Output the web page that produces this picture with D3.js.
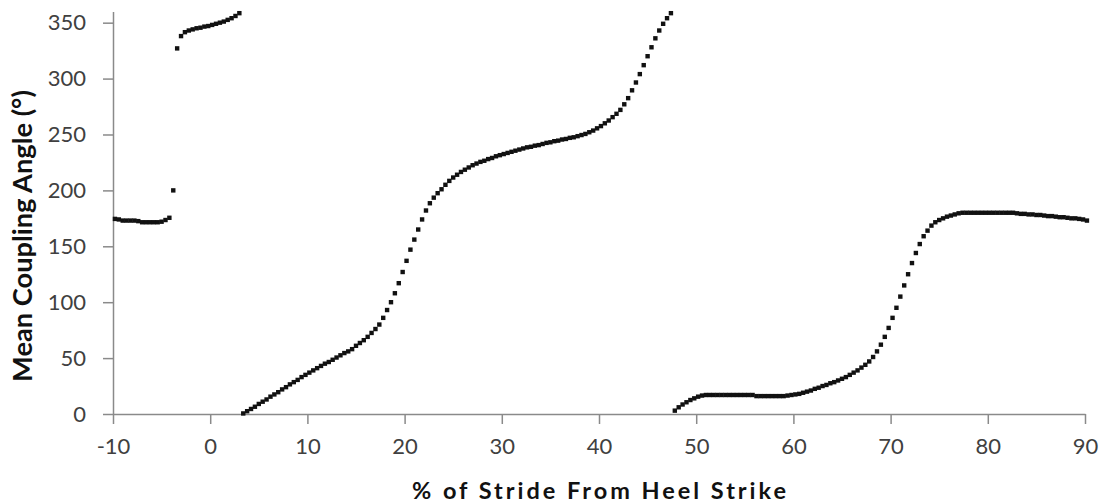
<!DOCTYPE html>
<html>
<head>
<meta charset="utf-8">
<script src="https://cdn.jsdelivr.net/npm/d3@7"></script>
<style>
body { margin: 0; background: #fff; }
</style>
</head>
<body>
<div id="chart"></div>
<script>
// % of stride from heel strike
const stride = [
  -9.8,-9.4,-9.0,-8.6,-8.2,-7.8,-7.4,-7.0,-6.6,-6.2,
  -5.8,-5.4,-5.0,-4.6,-4.2,-3.8,-3.4,-3.0,-2.6,-2.2,
  -1.8,-1.4,-1.0,-0.6,-0.2,0.2,0.6,1.0,1.4,1.8,
  2.2,2.6,3.0,3.4,3.8,4.2,4.6,5.0,5.4,5.8,
  6.2,6.6,7.0,7.4,7.8,8.2,8.6,9.0,9.4,9.8,
  10.2,10.6,11.0,11.4,11.8,12.2,12.6,13.0,13.4,13.8,
  14.2,14.6,15.0,15.4,15.8,16.2,16.6,17.0,17.4,17.8,
  18.2,18.6,19.0,19.4,19.8,20.2,20.6,21.0,21.4,21.8,
  22.2,22.6,23.0,23.4,23.8,24.2,24.6,25.0,25.4,25.8,
  26.2,26.6,27.0,27.4,27.8,28.2,28.6,29.0,29.4,29.8,
  30.2,30.6,31.0,31.4,31.8,32.2,32.6,33.0,33.4,33.8,
  34.2,34.6,35.0,35.4,35.8,36.2,36.6,37.0,37.4,37.8,
  38.2,38.6,39.0,39.4,39.8,40.2,40.6,41.0,41.4,41.8,
  42.2,42.6,43.0,43.4,43.8,44.2,44.6,45.0,45.4,45.8,
  46.2,46.6,47.0,47.4,47.8,48.2,48.6,49.0,49.4,49.8,
  50.2,50.6,51.0,51.4,51.8,52.2,52.6,53.0,53.4,53.8,
  54.2,54.6,55.0,55.4,55.8,56.2,56.6,57.0,57.4,57.8,
  58.2,58.6,59.0,59.4,59.8,60.2,60.6,61.0,61.4,61.8,
  62.2,62.6,63.0,63.4,63.8,64.2,64.6,65.0,65.4,65.8,
  66.2,66.6,67.0,67.4,67.8,68.2,68.6,69.0,69.4,69.8,
  70.2,70.6,71.0,71.4,71.8,72.2,72.6,73.0,73.4,73.8,
  74.2,74.6,75.0,75.4,75.8,76.2,76.6,77.0,77.4,77.8,
  78.2,78.6,79.0,79.4,79.8,80.2,80.6,81.0,81.4,81.8,
  82.2,82.6,83.0,83.4,83.8,84.2,84.6,85.0,85.4,85.8,
  86.2,86.6,87.0,87.4,87.8,88.2,88.6,89.0,89.4,89.8,
  90.2
];

// mean coupling angle (deg)
const angle = [
  174.5,174,173,173,173,173,172.5,171.5,171.5,171.5,
  171.5,171.5,172,173.5,175.5,200,327,338,341.5,343,
  344,345,345.5,346.5,347,348,349,350,351,352.5,
  354,356,358.5,0.5,2.5,4.5,6.5,9,11,13,
  15.5,17.5,19.5,22,24,26.5,28.5,30.5,33,35,
  37,39,41,43,45,46.5,48.5,50.5,52.5,54.5,
  56,58,61,63.5,66,69,72.5,76,80,86,
  93,100,108,117,127,137,147,156,165,174,
  182,188.5,193.5,197.5,201,205,208.5,211.5,214,216.5,
  218.5,220.5,222.5,224,225.5,226.5,228,229,230.5,231.5,
  232.5,233.5,234.5,235.5,236.5,237.5,238.5,239,240,240.5,
  241.5,242.5,243,244,244.5,245.5,246,247,247.5,248.5,
  249.5,250.5,252,253.5,255.5,257.5,260,262.5,265.5,268.5,
  272,277,282.5,289.5,296.5,304,312,320,328,336,
  343,349,354,358.5,3,6,8.5,10.5,12.5,14,
  15.5,16.5,17,17,17,17,17,17,17,17,
  17,17,17,17,17,16,16,16,16,16,
  16,16,16,16.5,17,17.5,18,19,20,21,
  22.5,23.5,25,26,27.5,28.5,30,31.5,33,35,
  37,39,41.5,44,47,51,56,62,69,77,
  86,95,105,115,125,135,144,152,159,164,
  168.5,171.5,173.5,175,176.5,177.5,178.5,179.5,180,180,
  180,180,180,180,180,180,180,180,180,180,
  180,180,179.5,179,179,178.5,178.5,178,178,177.5,
  177,177,176.5,176,176,175.5,175,175,174.5,174,
  173
];

const xTicks = [-10, 0, 10, 20, 30, 40, 50, 60, 70, 80, 90];
const yTicks = [0, 50, 100, 150, 200, 250, 300, 350];

let width = 1108,
    height = 504;
let margin = {top: 11.5, right: 23, bottom: 90, left: 113};
let font = "Lato, 'Open Sans', sans-serif";

let points = stride.map((s, i) => ({x: s, y: angle[i]}));

let svg = d3.select("#chart").append("svg")
    .attr("width", width)
    .attr("height", height)
    .style("background", "#fff");

let x = d3.scaleLinear()
    .domain([-10, 90])
    .range([margin.left, width - margin.right]);

let y = d3.scaleLinear()
    .domain([0, 360])
    .range([height - margin.bottom, margin.top]);

// plain hyphen for negatives, like the original
let fmt = d => String(d);

svg.append("g")
    .attr("transform", "translate(0," + y(0) + ")")
    .call(d3.axisBottom(x).tickValues(xTicks).tickFormat(fmt)
      .tickSize(10).tickSizeOuter(0).tickPadding(14));

svg.append("g")
    .attr("transform", "translate(" + x(-10) + ",0)")
    .call(d3.axisLeft(y).tickValues(yTicks).tickFormat(fmt)
      .tickSize(10).tickSizeOuter(0).tickPadding(17));

svg.selectAll(".domain, .tick line")
    .attr("stroke", "#8a8a8a")
    .attr("stroke-width", 1.5);

svg.selectAll(".tick text")
    .attr("fill", "#404040")
    .style("font-family", font)
    .style("font-size", "22px");

svg.append("g")
  .selectAll("rect")
  .data(points)
  .enter()
  .append("rect")
    .attr("x", d => x(d.x) - 2.2)
    .attr("y", d => y(d.y) - 2.2)
    .attr("width", 4.4)
    .attr("height", 4.4)
    .attr("fill", "#111");

// y title sized to the length it takes in the original
let yTitle = svg.append("text")
    .attr("transform", "translate(32,236) rotate(-90)")
    .attr("text-anchor", "middle")
    .style("font-family", font)
    .style("font-weight", "bold")
    .style("font-size", "20px")
    .attr("fill", "#111")
    .text("Mean Coupling Angle (°)");
let titleSize = 20 * 292 / yTitle.node().getComputedTextLength();
yTitle.style("font-size", titleSize + "px");

// x title: a bit smaller, lightly spread to the original width
svg.append("text")
    .attr("x", x(40))
    .attr("y", 499)
    .attr("text-anchor", "middle")
    .attr("textLength", 374)
    .attr("lengthAdjust", "spacing")
    .style("font-family", font)
    .style("font-weight", "bold")
    .style("font-size", "23.5px")
    .attr("fill", "#111")
    .text("% of Stride From Heel Strike");
</script>
</body>
</html>
